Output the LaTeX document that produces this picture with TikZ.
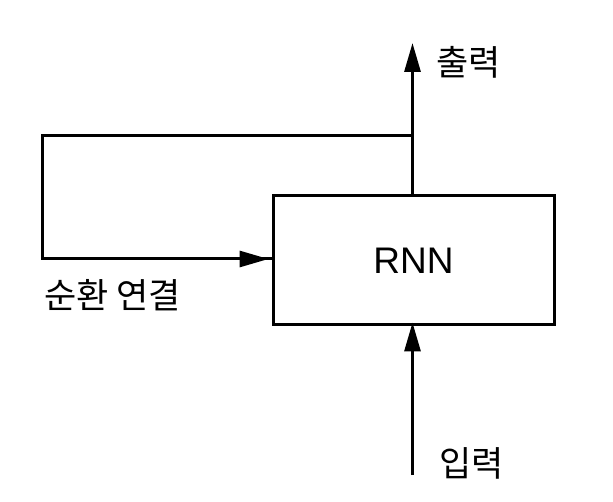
\documentclass[tikz,border=0pt]{standalone}
\usepackage{fontspec}
\setmainfont{Liberation Sans}
\newfontfamily\kr{Noto Sans CJK KR}
\usetikzlibrary{arrows.meta}
\begin{document}
\begin{tikzpicture}[x=1pt,y=-1pt,
  line/.style={line width=3pt},
  arr/.style={line, -{Triangle[length=29pt,width=16pt]}},
  lbl/.style={font=\kr\fontsize{35}{40}\selectfont, inner sep=0pt},
  box/.style={draw, line width=3pt, minimum width=281pt, minimum height=129pt, inner sep=0pt, font=\fontsize{37}{42}\selectfont}]
\useasboundingbox (0,0) rectangle (613,502);
\node[box] (rnn) at (413.5,260.5) {RNN};
\coordinate (out) at (412.5,43);
\coordinate (split) at (412.5,136);
\coordinate (tl) at (42.5,136);
\coordinate (bl) at (42.5,259);
\coordinate (in) at (412.5,475);
\draw[arr] (rnn.north -| out) -- (out);
\draw[line, line cap=rect] (split) -- (tl) -- (bl) -- (bl -| rnn.west);
\draw[arr] (bl) -- ([xshift=-3pt]bl -| rnn.west);
\draw[arr] (in) -- ([yshift=4pt]in |- rnn.south);
\node[lbl, anchor=west] (lout) at (436,62) {출력};
\node[lbl, anchor=west] (lrec) at (44,295) {순환 연결};
\node[lbl, anchor=west] (lin) at (439,463) {입력};
\end{tikzpicture}
\end{document}
